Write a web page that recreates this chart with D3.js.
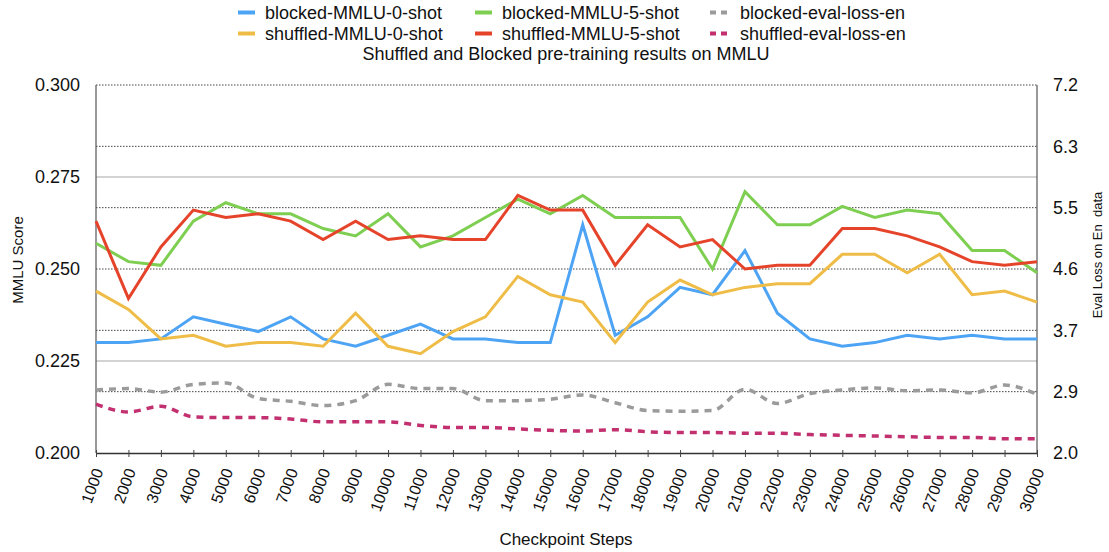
<!DOCTYPE html>
<html>
<head>
<meta charset="utf-8">
<script src="https://cdn.jsdelivr.net/npm/d3@7/dist/d3.min.js"></script>
<style>
  html, body { margin: 0; padding: 0; background: #fff; }
  svg { display: block; font-family: "Liberation Sans", Arial, Helvetica, sans-serif; }
</style>
</head>
<body>
<svg id="chart" width="1109" height="552"></svg>
<script>
// ---------- data ----------
const steps = ["1000","2000","3000","4000","5000","6000","7000","8000","9000","10000",
  "11000","12000","13000","14000","15000","16000","17000","18000","19000","20000",
  "21000","22000","23000","24000","25000","26000","27000","28000","29000","30000"];

const blocked0 = [0.230,0.230,0.231,0.237,0.235,0.233,0.237,0.231,0.229,0.232,0.235,
  0.231,0.231,0.230,0.230,0.262,0.232,0.237,0.245,0.243,
  0.255,0.238,0.231,0.229,0.230,0.232,0.231,0.232,0.231,0.231];
const shuffled0 = [0.244,0.239,0.231,0.232,0.229,0.230,0.230,0.229,0.238,0.229,0.227,
  0.233,0.237,0.248,0.243,0.241,0.230,0.241,0.247,0.243,
  0.245,0.246,0.246,0.254,0.254,0.249,0.254,0.243,0.244,0.241];
const blocked5 = [0.257,0.252,0.251,0.263,0.268,0.265,0.265,0.261,0.259,0.265,0.256,
  0.259,0.264,0.269,0.265,0.270,0.264,0.264,0.264,0.250,
  0.271,0.262,0.262,0.267,0.264,0.266,0.265,0.255,0.255,0.249];
const shuffled5 = [0.263,0.242,0.256,0.266,0.264,0.265,0.263,0.258,0.263,0.258,0.259,
  0.258,0.258,0.270,0.266,0.266,0.251,0.262,0.256,0.258,
  0.250,0.251,0.251,0.261,0.261,0.259,0.256,0.252,0.251,0.252];
const blockedLoss = [2.89,2.91,2.86,2.97,2.99,2.77,2.73,2.67,2.74,2.97,2.91,
  2.91,2.74,2.74,2.76,2.82,2.71,2.60,2.59,2.60,
  2.90,2.70,2.84,2.89,2.92,2.88,2.89,2.85,2.96,2.83];
const shuffledLoss = [2.69,2.58,2.66,2.51,2.50,2.50,2.48,2.44,2.44,2.44,2.39,
  2.36,2.36,2.34,2.32,2.31,2.33,2.30,2.29,2.29,
  2.28,2.28,2.26,2.25,2.24,2.23,2.22,2.22,2.20,2.20];

const leftTicks = [0.200, 0.225, 0.250, 0.275, 0.300];
const rightTicks = [2.0, 2.8667, 3.7333, 4.6, 5.4667, 6.3333, 7.2];

const seriesNames = ["blocked-MMLU-0-shot","blocked-MMLU-5-shot","blocked-eval-loss-en",
  "shuffled-MMLU-0-shot","shuffled-MMLU-5-shot","shuffled-eval-loss-en"];

const titleText = "Shuffled and Blocked pre-training results on MMLU";
const xTitle = "Checkpoint Steps";
const yLeftTitle = "MMLU Score";
const yRightTitle = "Eval Loss on En  data";

// ---------- layout ----------
const svg = d3.select("#chart");
const L = 96, R = 1037, T = 85, B = 453;

const x = d3.scalePoint().domain(steps).range([L, R]);
const yL = d3.scaleLinear().domain([0.200, 0.300]).range([B, T]);
const yR = d3.scaleLinear().domain([2.0, 7.2]).range([B, T]);

const series = [
  {name: seriesNames[0], data: blocked0, axis: "L", color: "#4ea4f4", dash: null},
  {name: seriesNames[1], data: blocked5, axis: "L", color: "#7ecf51", dash: null},
  {name: seriesNames[2], data: blockedLoss, axis: "R", color: "#9b9b9b", dash: "7,6"},
  {name: seriesNames[3], data: shuffled0, axis: "L", color: "#efbd47", dash: null},
  {name: seriesNames[4], data: shuffled5, axis: "L", color: "#e5442b", dash: null},
  {name: seriesNames[5], data: shuffledLoss, axis: "R", color: "#c2306f", dash: "7,6"}
];

// gridlines (left, solid light gray)
svg.append("g").selectAll("line").data(leftTicks.filter(v => v > 0.2 && v !== 0.25 && v !== 0.3)).join("line")
  .attr("x1", L).attr("x2", R)
  .attr("y1", d => yL(d)).attr("y2", d => yL(d))
  .attr("stroke", "#c4c4c4").attr("stroke-width", 1.5);

// gridlines (right, dotted)
svg.append("g").selectAll("line").data(rightTicks.slice(1)).join("line")
  .attr("x1", L).attr("x2", R)
  .attr("y1", d => yR(d)).attr("y2", d => yR(d))
  .attr("stroke", "#444").attr("stroke-width", 1).attr("stroke-dasharray", "1.5,1.5");

// axes lines
svg.append("line").attr("x1", L).attr("x2", L).attr("y1", T).attr("y2", B)
  .attr("stroke", "#555").attr("stroke-width", 1.2);
svg.append("line").attr("x1", R).attr("x2", R).attr("y1", T).attr("y2", B)
  .attr("stroke", "#555").attr("stroke-width", 1.2);

// bottom axis
const xAxis = d3.axisBottom(x).tickSizeInner(4).tickSizeOuter(0).tickPadding(4);
const gx = svg.append("g").attr("transform", `translate(0,${B})`).call(xAxis);
gx.select(".domain").attr("stroke", "#333").attr("stroke-width", 1.3);
gx.selectAll(".tick line").attr("stroke", "#444").attr("y1", -3);
gx.selectAll(".tick text")
  .attr("font-size", 16).attr("fill", "#111")
  .attr("text-anchor", "end")
  .attr("x", 0).attr("y", 0).attr("dy", null)
  .attr("transform", "translate(7,18) rotate(-70)");

// left axis labels
const gl = svg.append("g").attr("transform", `translate(${L},0)`)
  .call(d3.axisLeft(yL).tickValues(leftTicks).tickFormat(d3.format(".3f")).tickSize(0).tickPadding(16));
gl.select(".domain").remove();
gl.selectAll(".tick text").attr("font-size", 18).attr("fill", "#111");

// right axis labels
const gr = svg.append("g").attr("transform", `translate(${R},0)`)
  .call(d3.axisRight(yR).tickValues(rightTicks).tickFormat(d3.format(".1f")).tickSize(0).tickPadding(16));
gr.select(".domain").remove();
gr.selectAll(".tick text").attr("font-size", 18).attr("fill", "#111");

// lines
series.forEach(s => {
  const ys = s.axis === "L" ? yL : yR;
  const line = d3.line()
    .x((d, i) => x(steps[i]))
    .y(d => ys(d))
    .curve(s.dash ? d3.curveMonotoneX : d3.curveLinear);
  const p = svg.append("path").datum(s.data)
    .attr("d", line)
    .attr("fill", "none")
    .attr("stroke", s.color)
    .attr("stroke-width", s.dash ? 3.5 : 3)
    .attr("stroke-linejoin", "miter");
  if (s.dash) p.attr("stroke-dasharray", s.dash);
});

// legend
const colX = [238, 475, 710];
const rowY = [12.5, 33.5];
series.forEach((s, i) => {
  const c = i % 3, r = Math.floor(i / 3);
  const g = svg.append("g").attr("transform", `translate(${colX[c]},${rowY[r]})`);
  if (s.dash) {
    g.append("line").attr("x1", 0).attr("x2", 17).attr("y1", 0).attr("y2", 0)
      .attr("stroke", s.color).attr("stroke-width", 4).attr("stroke-dasharray", "6,5");
  } else {
    g.append("line").attr("x1", 0).attr("x2", 17).attr("y1", 0).attr("y2", 0)
      .attr("stroke", s.color).attr("stroke-width", 4);
  }
  g.append("text").attr("x", c === 2 ? 30 : 27).attr("y", 6)
    .attr("font-size", 18).attr("fill", "#111").text(s.name);
});

// title
svg.append("text").attr("x", 566).attr("y", 60).attr("text-anchor", "middle")
  .attr("font-size", 18).attr("fill", "#111").text(titleText);

// axis titles
svg.append("text").attr("x", 566).attr("y", 545).attr("text-anchor", "middle")
  .attr("font-size", 17).attr("fill", "#111").text(xTitle);
svg.append("text").attr("transform", "translate(23,260) rotate(-90)")
  .attr("text-anchor", "middle").attr("font-size", 15).attr("fill", "#111").text(yLeftTitle);
svg.append("text").attr("transform", "translate(1102,255) rotate(-90)")
  .attr("text-anchor", "middle").attr("font-size", 13).attr("fill", "#111")
  .style("white-space", "pre").text(yRightTitle);
</script>
</body>
</html>
